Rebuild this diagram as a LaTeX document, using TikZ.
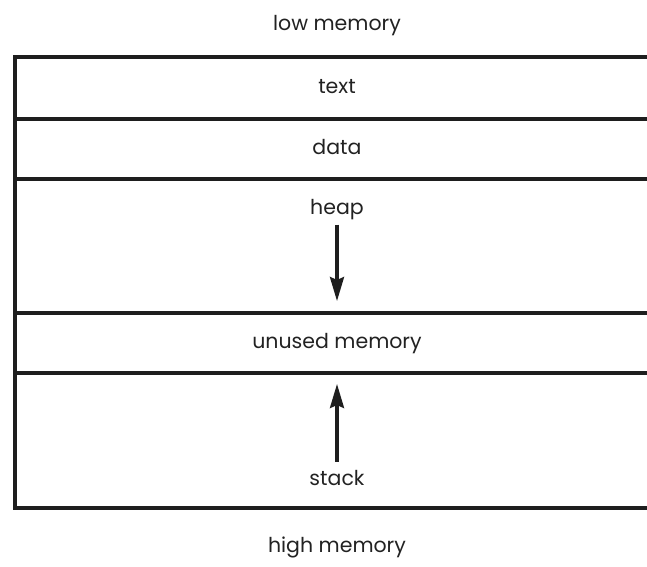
\documentclass[tikz,border=0pt]{standalone}
\usepackage{fontspec}
\setmainfont{Poppins}
\usetikzlibrary{arrows.meta}

\definecolor{rule}{HTML}{1E1E1E}
\definecolor{ink}{HTML}{222222}

\begin{document}
\begin{tikzpicture}[x=1pt,y=-1pt,
  lbl/.style={font=\fontsize{20.5}{24}\selectfont,text=ink,anchor=base,inner sep=2pt},
  wall/.style={draw=rule,line width=3.6pt},
  arr/.style={draw=rule,line width=3.2pt,-{Stealth[length=24pt,width=14pt,inset=3pt]}}]
\useasboundingbox (0,0) rectangle (647,566);
\clip (0,0) rectangle (647,566);
% memory layout
\draw [wall] (15,57) rectangle (662,508);
\draw [wall] (15,119) -- (662,119);
\draw [wall] (15,179) -- (662,179);
\draw [wall] (15,313) -- (662,313);
\draw [wall] (15,373) -- (662,373);
\node [lbl] (low) at (337,30) {low memory};
\node [lbl] (txt) at (337,93) {text};
\node [lbl] (dat) at (337,154) {data};
\node [lbl] (heap) at (337,214) {heap};
\node [lbl] (unused) at (337,348) {unused memory};
\node [lbl] (stack) at (337,485) {stack};
\node [lbl] (high) at (337,552) {high memory};
\coordinate (heapend) at (337,301);
\coordinate (stackend) at (337,384);
\draw [arr,shorten <=3pt] (heap.south) -- (heapend);
\draw [arr,shorten <=6pt] (stack.north) -- (stackend);
\end{tikzpicture}
\end{document}
